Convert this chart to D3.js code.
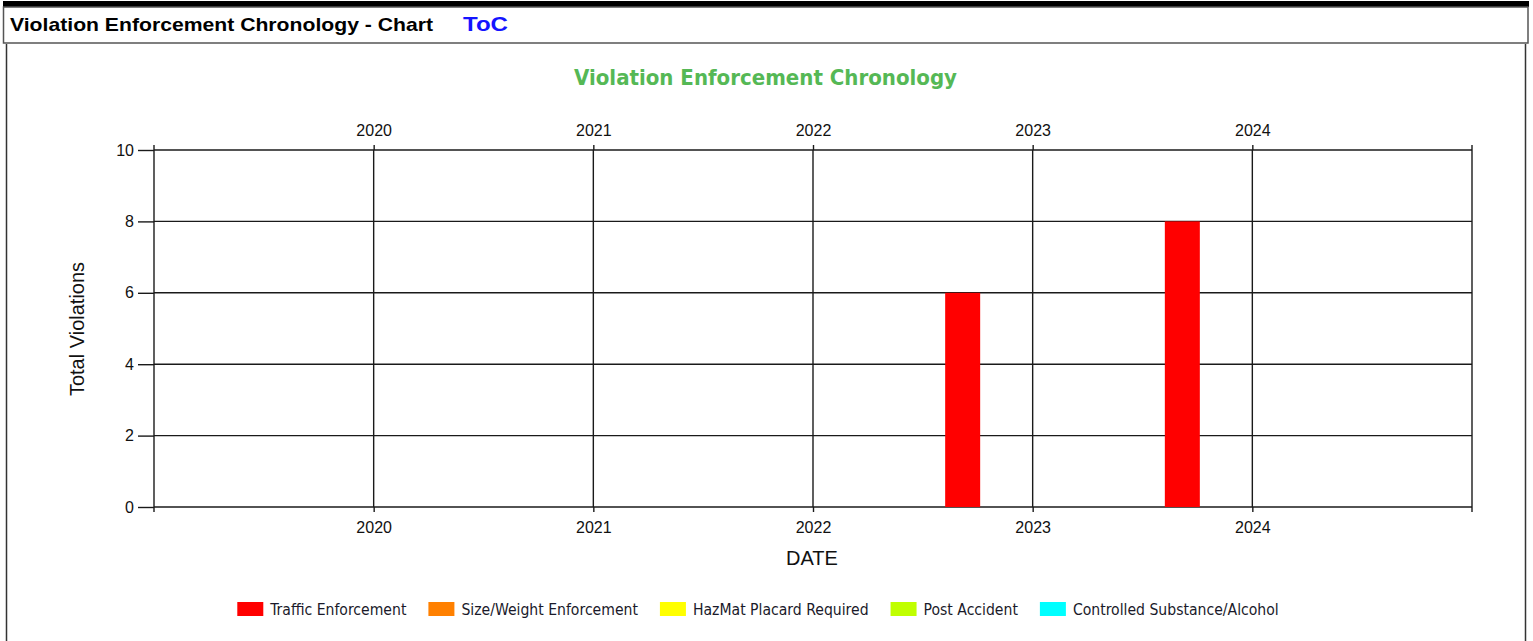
<!DOCTYPE html>
<html><head><meta charset="utf-8">
<script src="https://cdn.jsdelivr.net/npm/d3@7/dist/d3.min.js"></script>
<style>
html,body{margin:0;padding:0;background:#fff;}
svg{display:block;}
</style></head>
<body>
<svg id="c" width="1533" height="641"></svg>
<script>
// ---- data ----
const years = [2020, 2021, 2022, 2023, 2024];
const seriesNames = ["Traffic Enforcement", "Size/Weight Enforcement", "HazMat Placard Required", "Post Accident", "Controlled Substance/Alcohol"];
const seriesColors = ["#ff0000", "#ff8000", "#ffff00", "#c0ff00", "#00ffff"];
const trafficValues = [0, 0, 0, 6, 8];
const sizeWeightValues = [0, 0, 0, 0, 0];
const hazmatValues = [0, 0, 0, 0, 0];
const postAccidentValues = [0, 0, 0, 0, 0];
const substanceValues = [0, 0, 0, 0, 0];
const yTicks = [0, 2, 4, 6, 8, 10];
const xDomain = [2019, 2025];
const yDomain = [0, 10];

const seriesValues = [trafficValues, sizeWeightValues, hazmatValues, postAccidentValues, substanceValues];

const svg = d3.select("#c");
const arial = "'Liberation Sans', Arial, sans-serif";
const tahoma = "'DejaVu Sans Condensed', 'DejaVu Sans', sans-serif";

// ---- page header ----
svg.append("rect").attr("x", 3).attr("y", 1).attr("width", 1526).attr("height", 6).attr("fill", "#000");
svg.append("rect").attr("x", 3.5).attr("y", 7).attr("width", 1524.5).attr("height", 36)
  .attr("fill", "none").attr("stroke", "#555").attr("stroke-width", 1.5);
svg.append("text").attr("x", 10).attr("y", 31).attr("font-family", arial).attr("font-weight", "bold")
  .attr("font-size", 19).attr("fill", "#000").attr("textLength", 423).attr("lengthAdjust", "spacingAndGlyphs")
  .text("Violation Enforcement Chronology - Chart");
svg.append("text").attr("x", 463).attr("y", 31).attr("font-family", arial).attr("font-weight", "bold")
  .attr("font-size", 21).attr("fill", "#1414ff").attr("textLength", 45).attr("lengthAdjust", "spacingAndGlyphs")
  .text("ToC");
// chart panel borders
svg.append("line").attr("x1", 6.5).attr("x2", 6.5).attr("y1", 44).attr("y2", 641).attr("stroke", "#333").attr("stroke-width", 1.5);
svg.append("line").attr("x1", 1525.5).attr("x2", 1525.5).attr("y1", 44).attr("y2", 641).attr("stroke", "#333").attr("stroke-width", 1.5);

// ---- chart ----
const L = 154, R = 1472, T = 150, B = 507;
const x = d3.scaleLinear().domain(xDomain).range([L, R]);
const y = d3.scaleLinear().domain(yDomain).range([B, T]);
const inner = d3.scaleBand().domain(seriesNames).range([-87.5, 87.5]).padding(0);

svg.append("text").attr("x", 765.5).attr("y", 85).attr("text-anchor", "middle")
  .attr("font-family", tahoma).attr("font-weight", "bold").attr("font-size", 21.5)
  .attr("fill", "#55b855").attr("textLength", 383).attr("lengthAdjust", "spacingAndGlyphs")
  .text("Violation Enforcement Chronology");

const g = svg.append("g");
const lineCol = "#1a1a1a";
// horizontal gridlines
g.selectAll(".hg").data(yTicks).join("line")
  .attr("x1", L).attr("x2", R).attr("y1", d => y(d)).attr("y2", d => y(d))
  .attr("stroke", lineCol).attr("stroke-width", 1.4);
// vertical gridlines
g.selectAll(".vg").data(years).join("line")
  .attr("x1", d => x(d)).attr("x2", d => x(d)).attr("y1", T).attr("y2", B)
  .attr("stroke", lineCol).attr("stroke-width", 1.4);

// bars
seriesNames.forEach((name, si) => {
  g.selectAll(".b" + si).data(years.map((yr, i) => ({yr, v: seriesValues[si][i]})).filter(d => d.v > 0))
    .join("rect")
    .attr("x", d => x(d.yr) + inner(name))
    .attr("width", inner.bandwidth())
    .attr("y", d => y(d.v))
    .attr("height", d => y(0) - y(d.v))
    .attr("fill", seriesColors[si]);
});

// axes
const axStyle = sel => {
  sel.select(".domain").remove();
  sel.selectAll(".tick line").attr("stroke", lineCol).attr("stroke-width", 1.4);
  sel.selectAll(".tick text").attr("font-family", arial).attr("font-size", 16).attr("fill", "#111");
};
const xb = svg.append("g").attr("transform", `translate(0,${B})`)
  .call(d3.axisBottom(x).tickValues(years).tickFormat(d3.format("d")).tickSize(5).tickPadding(10));
axStyle(xb);
const xt = svg.append("g").attr("transform", `translate(0,${T})`)
  .call(d3.axisTop(x).tickValues(years).tickFormat(d3.format("d")).tickSize(5).tickPadding(9));
axStyle(xt);
const yl = svg.append("g").attr("transform", `translate(${L},0)`)
  .call(d3.axisLeft(y).tickValues(yTicks).tickSize(16).tickPadding(4));
axStyle(yl);

// frame
g.append("line").attr("x1", L).attr("x2", L).attr("y1", T - 5).attr("y2", B + 5).attr("stroke", lineCol).attr("stroke-width", 1.4);
g.append("line").attr("x1", R).attr("x2", R).attr("y1", T - 5).attr("y2", B + 5).attr("stroke", lineCol).attr("stroke-width", 1.4);

// axis titles
svg.append("text").attr("x", 812).attr("y", 565).attr("text-anchor", "middle")
  .attr("font-family", arial).attr("font-size", 20).attr("fill", "#111").text("DATE");
svg.append("text").attr("transform", `translate(84,329) rotate(-90)`).attr("text-anchor", "middle")
  .attr("font-family", arial).attr("font-size", 20).attr("fill", "#111").text("Total Violations");

// legend
const leg = svg.append("g");
const items = [];
seriesNames.forEach((name, i) => {
  const it = leg.append("g");
  it.append("rect").attr("x", 0).attr("y", -7).attr("width", 26).attr("height", 14).attr("fill", seriesColors[i]);
  const t = it.append("text").attr("x", 33).attr("y", 5.5).attr("font-family", tahoma)
    .attr("font-size", 15.6).attr("fill", "#1a1a2a").text(name);
  const w = 33 + t.node().getComputedTextLength();
  items.push({it, w});
});
const gap = 22;
const total = d3.sum(items, d => d.w) + gap * (items.length - 1);
let pos = 758 - total / 2;
items.forEach(d => { d.it.attr("transform", `translate(${pos},609)`); pos += d.w + gap; });
</script>
</body></html>
